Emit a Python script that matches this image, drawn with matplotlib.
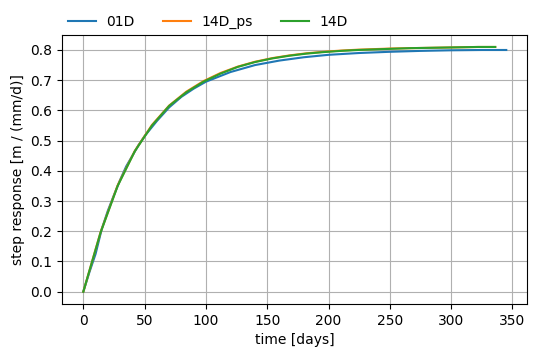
import matplotlib
matplotlib.use("Agg")
import matplotlib.pyplot as plt

# step response
days_01d = [0, 5, 10, 15, 20, 25, 30, 35, 40, 45, 50, 60, 70, 80, 90, 100,
            120, 140, 160, 180, 200, 225, 250, 275, 300, 325, 345]
resp_01d = [0.0, 0.065, 0.125, 0.207, 0.268, 0.32, 0.37, 0.415, 0.45, 0.485, 0.515,
            0.565, 0.61, 0.645, 0.672, 0.695, 0.727, 0.75, 0.765, 0.776, 0.784,
            0.79, 0.794, 0.797, 0.799, 0.80, 0.80]

days_14d = [0, 14, 28, 42, 56, 70, 84, 98, 112, 126, 140, 154, 168, 182, 196,
            210, 224, 238, 252, 266, 280, 294, 308, 322, 336]
resp_14d_ps = [0.0, 0.196, 0.352, 0.466, 0.552, 0.616, 0.662, 0.697, 0.724, 0.745,
               0.761, 0.773, 0.782, 0.789, 0.794, 0.798, 0.801, 0.803, 0.805, 0.806,
               0.807, 0.808, 0.809, 0.81, 0.81]
resp_14d = [0.0, 0.195, 0.35, 0.465, 0.55, 0.615, 0.66, 0.695, 0.722, 0.744,
            0.76, 0.772, 0.781, 0.788, 0.793, 0.797, 0.80, 0.802, 0.804, 0.806,
            0.807, 0.808, 0.809, 0.81, 0.81]

fig = plt.figure(figsize=(5.36, 3.58), dpi=100)
ax = fig.add_axes([0.116, 0.151, 0.868, 0.752])
ax.plot(days_01d, resp_01d, label="01D")
ax.plot(days_14d, resp_14d_ps, label="14D_ps")
ax.plot(days_14d, resp_14d, label="14D")
ax.set_xlabel("time [days]")
ax.set_ylabel("step response [m / (mm/d)]")
ax.grid(True)
ax.legend(loc="lower left", bbox_to_anchor=(0, 1), borderaxespad=0, ncol=3, frameon=False)
fig.savefig("out.png", dpi=100)
